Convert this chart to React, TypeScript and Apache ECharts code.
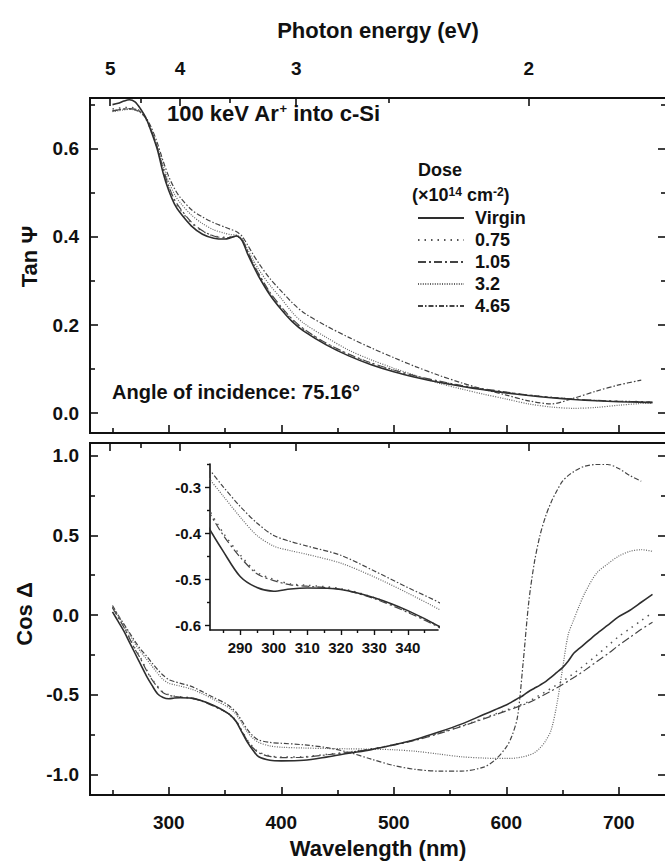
import React, { useEffect, useRef } from "react";
import * as echarts from "echarts";

const FONT = "'Liberation Sans', Arial, Helvetica, sans-serif";
const INK = "#111";
const HC = 1239.84; // eV·nm, photon energy <-> wavelength

// ---------- tick values ----------
const wlMajor = [300, 400, 500, 600, 700];
const wlMinor = [250, 350, 450, 550, 650];
const energyMajor = [5, 4, 3, 2];
const energyMinor = [4.5, 3.5, 2.5];
const tanMajor = [0, 0.2, 0.4, 0.6];
const tanMinor = [0.1, 0.3, 0.5, 0.7];
const cosMajor = [-1, -0.5, 0, 0.5, 1];
const cosMinor = [-0.75, -0.25, 0.25, 0.75];
const insetXMajor = [290, 300, 310, 320, 330, 340];
const insetXMinor = [285, 295, 305, 315, 325, 335, 345];
const insetYMajor = [-0.6, -0.5, -0.4, -0.3];
const insetYMinor = [-0.55, -0.45, -0.35, -0.25];

// ---------- data ----------
const seriesNames = ["Virgin", "0.75", "1.05", "3.2", "4.65"];

const topWavelengths = [
  250, 255, 260, 265, 270, 275, 280, 285, 290, 295, 300, 305, 310, 320, 330, 340, 350,
  355, 360, 365, 370, 375, 380, 390, 400, 410, 420, 440, 460, 480, 500, 520, 540, 560,
  580, 600, 620, 640, 660, 680, 700, 720, 730,
];
const tanVirgin = [
  0.700, 0.703, 0.708, 0.711, 0.706, 0.690, 0.668, 0.635, 0.597, 0.545, 0.505, 0.475, 0.455,
  0.425, 0.406, 0.397, 0.395, 0.398, 0.402, 0.392, 0.362, 0.335, 0.310, 0.268, 0.235, 0.207,
  0.186, 0.155, 0.130, 0.110, 0.094, 0.081, 0.070, 0.061, 0.053, 0.046, 0.040, 0.035, 0.031,
  0.028, 0.026, 0.025, 0.024,
];
const tan075 = [
  0.690, 0.692, 0.693, 0.694, 0.692, 0.684, 0.666, 0.636, 0.600, 0.552, 0.512, 0.482, 0.462,
  0.432, 0.413, 0.402, 0.399, 0.400, 0.403, 0.395, 0.368, 0.340, 0.315, 0.272, 0.239, 0.211,
  0.190, 0.158, 0.133, 0.113, 0.097, 0.083, 0.072, 0.062, 0.054, 0.047, 0.041, 0.036, 0.032,
  0.029, 0.027, 0.026, 0.025,
];
const tan105 = [
  0.686, 0.688, 0.690, 0.691, 0.690, 0.683, 0.667, 0.637, 0.601, 0.555, 0.515, 0.485, 0.465,
  0.434, 0.414, 0.402, 0.398, 0.399, 0.401, 0.394, 0.367, 0.340, 0.316, 0.274, 0.241, 0.213,
  0.191, 0.159, 0.134, 0.114, 0.098, 0.084, 0.073, 0.063, 0.055, 0.048, 0.041, 0.036, 0.032,
  0.029, 0.027, 0.026, 0.025,
];
const tan32 = [
  0.684, 0.686, 0.688, 0.689, 0.688, 0.682, 0.668, 0.640, 0.605, 0.562, 0.525, 0.497, 0.478,
  0.450, 0.430, 0.416, 0.408, 0.405, 0.404, 0.396, 0.372, 0.348, 0.326, 0.290, 0.260, 0.228,
  0.204, 0.172, 0.143, 0.121, 0.102, 0.085, 0.068, 0.055, 0.043, 0.032, 0.021, 0.014, 0.011,
  0.013, 0.018, 0.022, 0.023,
];
const tan465 = [
  0.686, 0.688, 0.690, 0.690, 0.688, 0.682, 0.670, 0.645, 0.612, 0.572, 0.537, 0.510, 0.490,
  0.462, 0.445, 0.432, 0.422, 0.417, 0.412, 0.402, 0.382, 0.360, 0.340, 0.305, 0.277, 0.250,
  0.228, 0.198, 0.172, 0.148, 0.126, 0.105, 0.086, 0.069, 0.054, 0.041, 0.028, 0.021, 0.034,
  0.050, 0.064, 0.075, null,
];

const bottomWavelengths = [
  250, 255, 260, 265, 270, 275, 280, 285, 290, 295, 300, 305, 310, 320, 330, 340, 350,
  355, 360, 365, 370, 375, 380, 390, 400, 420, 440, 460, 480, 500, 520, 540, 560, 580,
  590, 600, 605, 610, 615, 620, 625, 630, 635, 640, 645, 650, 655, 660, 665, 670,
  680, 690, 700, 710, 720, 730,
];
const cosVirgin = [
  0.02, -0.04, -0.10, -0.17, -0.24, -0.31, -0.38, -0.44, -0.494, -0.518, -0.526, -0.521, -0.519,
  -0.522, -0.54, -0.568, -0.605, -0.63, -0.67, -0.735, -0.80, -0.85, -0.89, -0.912, -0.916,
  -0.912, -0.892, -0.868, -0.845, -0.815, -0.78, -0.735, -0.685, -0.625, -0.595, -0.565,
  -0.545, -0.525, -0.505, -0.48, -0.46, -0.44, -0.418, -0.39, -0.36, -0.33, -0.29, -0.24,
  -0.21, -0.18, -0.12, -0.065, -0.01, 0.03, 0.08, 0.13,
];
const cos075 = [
  0.05, -0.01, -0.07, -0.14, -0.21, -0.27, -0.34, -0.40, -0.447, -0.485, -0.50, -0.51, -0.513,
  -0.52, -0.54, -0.57, -0.605, -0.63, -0.665, -0.725, -0.785, -0.83, -0.86, -0.885, -0.892,
  -0.89, -0.875, -0.86, -0.84, -0.815, -0.782, -0.742, -0.697, -0.648, -0.622, -0.597,
  -0.585, -0.572, -0.558, -0.543, -0.523, -0.502, -0.481, -0.46, -0.438, -0.415, -0.392,
  -0.366, -0.34, -0.312, -0.255, -0.195, -0.135, -0.085, -0.035, 0.015,
];
const cos105 = [
  0.045, -0.015, -0.075, -0.145, -0.215, -0.275, -0.345, -0.405, -0.452, -0.488, -0.503,
  -0.512, -0.515, -0.522, -0.542, -0.572, -0.607, -0.632, -0.668, -0.73, -0.79, -0.835,
  -0.865, -0.888, -0.895, -0.893, -0.878, -0.862, -0.842, -0.817, -0.785, -0.745, -0.70,
  -0.652, -0.627, -0.602, -0.59, -0.577, -0.564, -0.55, -0.534, -0.515, -0.496, -0.477,
  -0.457, -0.436, -0.415, -0.392, -0.37, -0.346, -0.295, -0.245, -0.19, -0.14, -0.09, -0.045,
];
const cos32 = [
  0.05, -0.005, -0.06, -0.12, -0.18, -0.23, -0.275, -0.32, -0.365, -0.405, -0.428, -0.438,
  -0.446, -0.465, -0.495, -0.53, -0.568, -0.59, -0.625, -0.68, -0.735, -0.775, -0.80, -0.822,
  -0.83, -0.835, -0.838, -0.84, -0.842, -0.846, -0.856, -0.873, -0.89, -0.898, -0.9, -0.9,
  -0.9, -0.896, -0.89, -0.88, -0.865, -0.835, -0.79, -0.72, -0.56, -0.34, -0.125, -0.03,
  0.06, 0.14, 0.26, 0.32, 0.37, 0.40, 0.41, 0.40,
];
const cos465 = [
  0.06, 0.0, -0.055, -0.11, -0.165, -0.215, -0.255, -0.30, -0.342, -0.378, -0.405, -0.418,
  -0.428, -0.448, -0.482, -0.518, -0.553, -0.578, -0.612, -0.665, -0.72, -0.76, -0.785,
  -0.80, -0.805, -0.815, -0.832, -0.862, -0.905, -0.945, -0.97, -0.98, -0.98, -0.955, -0.91,
  -0.83, -0.76, -0.64, -0.30, 0.08, 0.33, 0.50, 0.62, 0.71, 0.78, 0.84, 0.875, 0.90, 0.92,
  0.935, 0.945, 0.945, 0.92, 0.875, 0.84, null,
];

const tanData = [tanVirgin, tan075, tan105, tan32, tan465];
const cosData = [cosVirgin, cos075, cos105, cos32, cos465];

// ---------- styles ----------
const lineStyles: any[] = [
  { type: "solid", width: 1.6, color: "#2e2e2e" },
  { type: [1.5, 5], width: 1.5, color: "#555" },
  { type: [8, 3, 2, 3], width: 1.2, color: "#444" },
  { type: [1, 1.4], width: 1.2, color: "#666" },
  { type: [5, 2, 1.5, 2], width: 1.2, color: "#444" },
];

const X_MIN = 230;
const X_MAX = 742;

const labelFont = { fontFamily: FONT, fontWeight: "bold" as const, color: INK };

function xAx(gridIndex: number, position: string, ticks: number[], len: number, extra: any = {}) {
  return {
    type: "value",
    gridIndex,
    position,
    min: X_MIN,
    max: X_MAX,
    splitLine: { show: false },
    axisLine: { show: true, onZero: false, lineStyle: { color: INK, width: 2 } },
    axisTick: { show: true, inside: true, length: len, customValues: ticks, lineStyle: { color: INK, width: 1.6 } },
    axisLabel: { show: false },
    ...extra,
  };
}

function yAx(gridIndex: number, position: string, min: number, max: number, ticks: number[], len: number, extra: any = {}) {
  return {
    type: "value",
    gridIndex,
    position,
    min,
    max,
    splitLine: { show: false },
    axisLine: { show: true, onZero: false, lineStyle: { color: INK, width: 2 } },
    axisTick: { show: true, inside: true, length: len, customValues: ticks, lineStyle: { color: INK, width: 1.6 } },
    axisLabel: { show: false },
    ...extra,
  };
}

function buildOption() {
  const toE = (e: number) => HC / e;

  const xAxis: any[] = [
    // top panel (grid 0)
    xAx(0, "bottom", wlMajor, 8),
    xAx(0, "bottom", wlMinor, 5),
    xAx(0, "top", energyMajor.map(toE), 8, {
      axisLabel: {
        show: true,
        customValues: energyMajor.map(toE),
        formatter: (v: number) => String(Math.round(HC / v)),
        margin: 20,
        fontSize: 19,
        ...labelFont,
      },
      name: "Photon energy (eV)",
      nameLocation: "middle",
      nameGap: 57,
      nameTextStyle: { fontSize: 22, ...labelFont },
    }),
    xAx(0, "top", energyMinor.map(toE), 5),
    // bottom panel (grid 1)
    xAx(1, "bottom", wlMajor, 8, {
      axisLabel: {
        show: true,
        customValues: wlMajor,
        margin: 18,
        fontSize: 19,
        ...labelFont,
      },
      name: "Wavelength (nm)",
      nameLocation: "middle",
      nameGap: 42,
      nameTextStyle: { fontSize: 22, ...labelFont },
    }),
    xAx(1, "bottom", wlMinor, 5),
    xAx(1, "top", energyMajor.map(toE), 8),
    xAx(1, "top", energyMinor.map(toE), 5),
    // inset (grid 2)
    {
      type: "value",
      gridIndex: 2,
      position: "bottom",
      min: 281,
      max: 349,
      splitLine: { show: false },
      axisLine: { show: true, onZero: false, lineStyle: { color: INK, width: 1.6 } },
      axisTick: { show: true, inside: false, length: 5, customValues: insetXMajor, lineStyle: { color: INK, width: 1.4 } },
      axisLabel: { show: true, customValues: insetXMajor, margin: 10, fontSize: 15, ...labelFont },
    },
    {
      type: "value",
      gridIndex: 2,
      position: "bottom",
      min: 281,
      max: 349,
      splitLine: { show: false },
      axisLine: { show: false, onZero: false },
      axisTick: { show: true, inside: false, length: 3, customValues: insetXMinor, lineStyle: { color: INK, width: 1.4 } },
      axisLabel: { show: false },
    },
  ];

  const yAxis: any[] = [
    yAx(0, "left", -0.045, 0.715, tanMajor, 8, {
      axisLabel: {
        show: true,
        customValues: tanMajor,
        formatter: (v: number) => v.toFixed(1),
        margin: 11,
        fontSize: 19,
        ...labelFont,
      },
      name: "Tan Ψ",
      nameLocation: "middle",
      nameGap: 50,
      nameTextStyle: { fontSize: 22, ...labelFont, padding: [0, 0, 0, 18] },
    }),
    yAx(0, "left", -0.045, 0.715, tanMinor, 5),
    yAx(0, "right", -0.045, 0.715, tanMajor, 8),
    yAx(0, "right", -0.045, 0.715, tanMinor, 5),
    yAx(1, "left", -1.13, 1.08, cosMajor, 8, {
      axisLabel: {
        show: true,
        customValues: cosMajor,
        formatter: (v: number) => v.toFixed(1),
        margin: 11,
        fontSize: 19,
        ...labelFont,
      },
      name: "Cos Δ",
      nameLocation: "middle",
      nameGap: 50,
      nameTextStyle: { fontSize: 22, ...labelFont, padding: [0, 0, 0, 10] },
    }),
    yAx(1, "left", -1.13, 1.08, cosMinor, 5),
    yAx(1, "right", -1.13, 1.08, cosMajor, 8),
    yAx(1, "right", -1.13, 1.08, cosMinor, 5),
    {
      type: "value",
      gridIndex: 2,
      position: "left",
      min: -0.61,
      max: -0.25,
      splitLine: { show: false },
      axisLine: { show: true, onZero: false, lineStyle: { color: INK, width: 1.6 } },
      axisTick: { show: true, inside: false, length: 5, customValues: insetYMajor, lineStyle: { color: INK, width: 1.4 } },
      axisLabel: {
        show: true,
        customValues: insetYMajor,
        formatter: (v: number) => v.toFixed(1),
        margin: 9,
        fontSize: 15,
        ...labelFont,
      },
    },
    {
      type: "value",
      gridIndex: 2,
      position: "left",
      min: -0.61,
      max: -0.25,
      splitLine: { show: false },
      axisLine: { show: false, onZero: false },
      axisTick: { show: true, inside: false, length: 3, customValues: insetYMinor, lineStyle: { color: INK, width: 1.4 } },
      axisLabel: { show: false },
    },
  ];

  const series: any[] = [];
  seriesNames.forEach((name, i) => {
    series.push({
      type: "line",
      name,
      xAxisIndex: 0,
      yAxisIndex: 0,
      data: topWavelengths.map((w, k) => [w, tanData[i][k]]),
      showSymbol: false,
      symbol: "none",
      smooth: 0.3,
      connectNulls: false,
      lineStyle: lineStyles[i],
      itemStyle: { color: lineStyles[i].color },
      z: 10 - i,
    });
  });
  seriesNames.forEach((name, i) => {
    series.push({
      type: "line",
      name,
      xAxisIndex: 4,
      yAxisIndex: 4,
      data: bottomWavelengths.map((w, k) => [w, cosData[i][k]]),
      showSymbol: false,
      symbol: "none",
      smooth: 0.3,
      lineStyle: lineStyles[i],
      itemStyle: { color: lineStyles[i].color },
      z: 10 - i,
    });
  });
  seriesNames.forEach((name, i) => {
    series.push({
      type: "line",
      name,
      xAxisIndex: 8,
      yAxisIndex: 8,
      data: bottomWavelengths.map((w, k) => [w, cosData[i][k]]),
      showSymbol: false,
      symbol: "none",
      smooth: 0.3,
      clip: true,
      lineStyle: lineStyles[i],
      itemStyle: { color: lineStyles[i].color },
      z: 10 - i,
    });
  });

  return {
    animation: false,
    backgroundColor: "#fff",
    textStyle: { fontFamily: FONT },
    grid: [
      { left: 90, top: 98, width: 576, height: 335, outerBoundsMode: "none" },
      { left: 90, top: 443, width: 576, height: 352, outerBoundsMode: "none" },
      { left: 210, top: 464, width: 228, height: 166, outerBoundsMode: "none" },
    ],
    xAxis,
    yAxis,
    legend: {
      data: seriesNames,
      orient: "vertical",
      left: 412,
      top: 203,
      itemWidth: 46,
      itemHeight: 10,
      itemGap: 2,
      selectedMode: false,
      itemStyle: { opacity: 0 },
      textStyle: { fontSize: 18, lineHeight: 20, padding: [0, 0, 0, 6], ...labelFont },
    },
    graphic: [
      {
        type: "text",
        left: 167,
        top: 102,
        style: {
          text: "100 keV Ar{sup|+} into c-Si",
          font: `bold 22px ${FONT}`,
          fill: INK,
          rich: {
            sup: { fontSize: 13, fontWeight: "bold", fontFamily: FONT, verticalAlign: "top", lineHeight: 12, fill: INK },
          },
        },
      },
      {
        type: "text",
        left: 112,
        top: 382,
        style: { text: "Angle of incidence: 75.16°", font: `bold 20px ${FONT}`, fill: INK },
      },
      {
        type: "text",
        left: 418,
        top: 161,
        style: { text: "Dose", font: `bold 18px ${FONT}`, fill: INK },
      },
      {
        type: "text",
        left: 412,
        top: 186,
        style: {
          text: "(×10{sup|14} cm{sup|-2})",
          font: `bold 18px ${FONT}`,
          fill: INK,
          rich: {
            sup: { fontSize: 12, fontWeight: "bold", fontFamily: FONT, verticalAlign: "top", lineHeight: 11, fill: INK },
          },
        },
      },
    ],
    series,
  };
}

export default function App() {
  const ref = useRef<HTMLDivElement>(null);
  useEffect(() => {
    document.body.style.margin = "0";
    const chart = echarts.init(ref.current as HTMLDivElement, null, { renderer: "svg" });
    chart.setOption(buildOption() as any);
    return () => chart.dispose();
  }, []);
  return <div ref={ref} style={{ width: 665, height: 861, background: "#fff" }} />;
}
